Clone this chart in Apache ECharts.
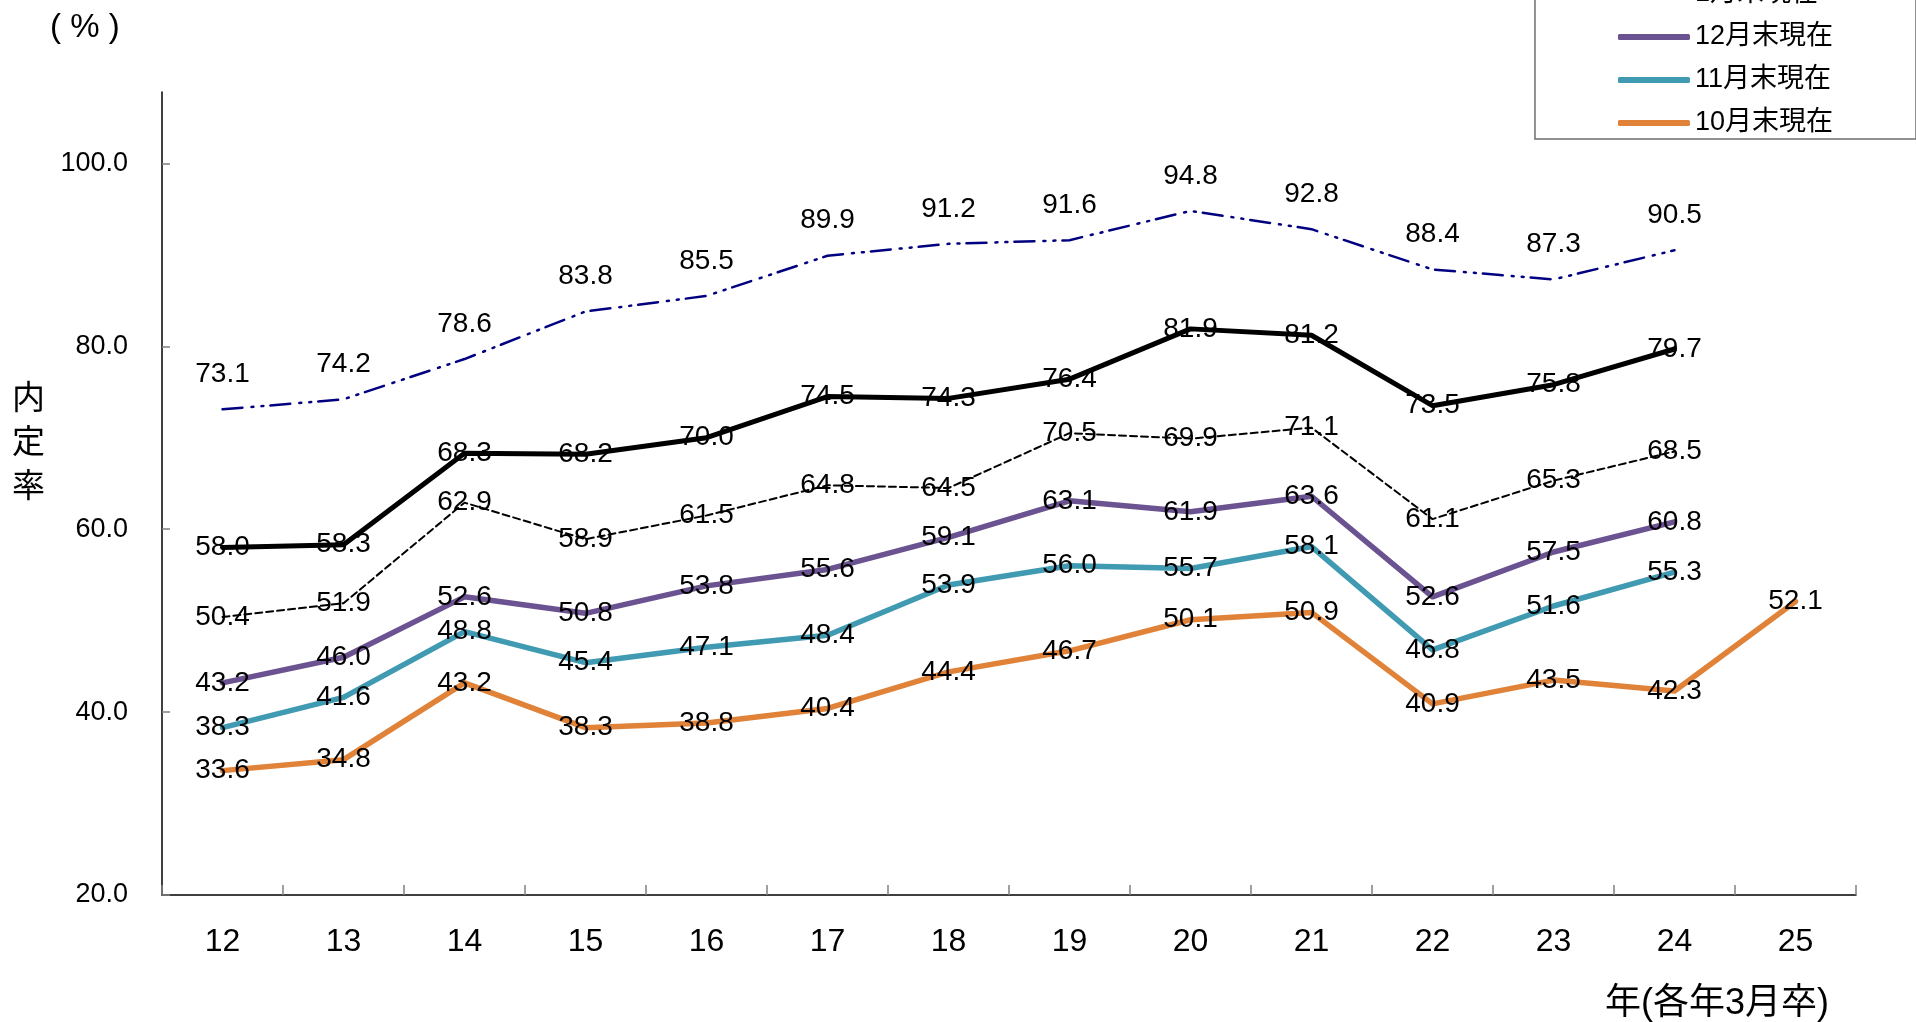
<!DOCTYPE html>
<html>
<head>
<meta charset="utf-8">
<script src="https://cdn.jsdelivr.net/npm/echarts@6/dist/echarts.min.js"></script>
<style>
html,body{margin:0;padding:0;background:#fff;}
#chart{width:1916px;height:1022px;}
</style>
</head>
<body>
<div id="chart"></div>
<script>
const categories = ['12','13','14','15','16','17','18','19','20','21','22','23','24','25'];
const seriesNames = ['3月末現在','2月末現在','1月末現在','12月末現在','11月末現在','10月末現在'];
const mar = [73.1, 74.2, 78.6, 83.8, 85.5, 89.9, 91.2, 91.6, 94.8, 92.8, 88.4, 87.3, 90.5];
const feb = [58.0, 58.3, 68.3, 68.2, 70.0, 74.5, 74.3, 76.4, 81.9, 81.2, 73.5, 75.8, 79.7];
const jan = [50.4, 51.9, 62.9, 58.9, 61.5, 64.8, 64.5, 70.5, 69.9, 71.1, 61.1, 65.3, 68.5];
const dec = [43.2, 46.0, 52.6, 50.8, 53.8, 55.6, 59.1, 63.1, 61.9, 63.6, 52.6, 57.5, 60.8];
const nov = [38.3, 41.6, 48.8, 45.4, 47.1, 48.4, 53.9, 56.0, 55.7, 58.1, 46.8, 51.6, 55.3];
const oct = [33.6, 34.8, 43.2, 38.3, 38.8, 40.4, 44.4, 46.7, 50.1, 50.9, 40.9, 43.5, 42.3, 52.1];
const yTicks = [20, 40, 60, 80, 100];

const FONT = '"Liberation Sans", Arial, "Noto Sans CJK JP", sans-serif';

const chart = echarts.init(document.getElementById('chart'), null, {renderer: 'canvas'});

function lbl(pos, dist) {
  return {
    show: true,
    position: pos,
    distance: dist,
    color: '#000',
    fontSize: 28,
    fontFamily: FONT,
    formatter: p => Number(p.value).toFixed(1)
  };
}

function mk(name, data, color, width, dash, pos, dist) {
  return {
    name: name,
    type: 'line',
    data: data,
    symbol: 'circle',
    symbolSize: 0,
    showSymbol: true,
    silent: true,
    animation: false,
    itemStyle: {color: color},
    lineStyle: {color: color, width: width, type: dash || 'solid', cap: 'round', join: 'round'},
    label: lbl(pos || 'inside', dist || 0),
    labelLayout: {hideOverlap: false}
  };
}

const option = {
  backgroundColor: '#fff',
  animation: false,
  textStyle: {fontFamily: FONT},
  grid: {left: 162, right: 60, top: 92, bottom: 127, outerBoundsMode: 'none'},
  legend: {
    orient: 'vertical',
    right: 0,
    top: -112,
    data: seriesNames,
    icon: 'roundRect',
    itemWidth: 72,
    itemHeight: 6,
    itemGap: 13,
    padding: [5, 83, 1, 83],
    borderColor: '#6e6e6e',
    borderWidth: 1.5,
    backgroundColor: '#fff',
    selectedMode: false,
    textStyle: {fontSize: 27, color: '#000', fontFamily: FONT, lineHeight: 30}
  },
  xAxis: {
    type: 'category',
    data: categories,
    boundaryGap: true,
    axisLine: {show: true, lineStyle: {color: '#000', width: 1.5}},
    axisTick: {show: true, inside: true, length: 10, interval: 0, lineStyle: {color: '#808080', width: 1.5}},
    axisLabel: {fontSize: 32, color: '#000', margin: 31, fontFamily: FONT, interval: 0},
    splitLine: {show: false}
  },
  yAxis: {
    type: 'value',
    min: 20,
    max: 107.8,
    axisLine: {show: true, lineStyle: {color: '#000', width: 1.5}},
    axisTick: {show: true, inside: true, length: 8, customValues: yTicks, lineStyle: {color: '#808080', width: 1.5}},
    axisLabel: {fontSize: 27, color: '#000', margin: 34, fontFamily: FONT, customValues: yTicks,
      formatter: v => Number(v).toFixed(1)},
    splitLine: {show: false}
  },
  graphic: [
    {type: 'text', left: 50, top: 11, style: {text: '( % )', fontSize: 33, fill: '#000', fontFamily: FONT}},
    {type: 'text', left: 12, top: 378, style: {text: '内\n定\n率', fontSize: 33, lineHeight: 44, fill: '#000', fontFamily: FONT}},
    {type: 'text', left: 1605, top: 986, style: {text: '年(各年3月卒)', fontSize: 36, fill: '#000', fontFamily: FONT}}
  ],
  series: [
    mk(seriesNames[0], mar, '#000080', 2.5, [20, 9, 2, 8, 2, 7], 'top', 21),
    mk(seriesNames[1], feb, '#000000', 5),
    mk(seriesNames[2], jan, '#000000', 2, [7, 4]),
    mk(seriesNames[3], dec, '#6B5291', 5.5),
    mk(seriesNames[4], nov, '#409AB2', 5.5),
    mk(seriesNames[5], oct, '#E08238', 5.5)
  ]
};
chart.setOption(option);
</script>
</body>
</html>
